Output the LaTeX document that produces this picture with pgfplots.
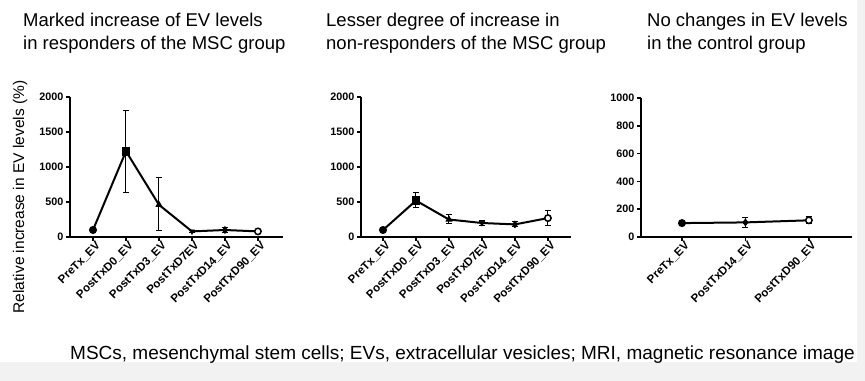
\documentclass[border=0pt]{standalone}
\usepackage{pgfplots}
\pgfplotsset{compat=1.18}
\usepackage{fontspec}
\setmainfont{Liberation Sans}
\pgfplotsset{
  panel/.style={
    scale only axis,
    axis lines=left,
    axis line style={-, line width=1.8bp, black},
    tick align=outside,
    major tick length=4bp,
    tick style={line width=1.5bp, black},
    ymin=0,
    clip=false,
    /pgf/number format/assume math mode=true,
    /pgf/number format/1000 sep={},
    yticklabel style={font=\fontsize{10.8bp}{12bp}\selectfont\bfseries, xshift=1bp},
    xticklabel style={font=\fontsize{11.5bp}{13bp}\selectfont\bfseries, rotate=45, anchor=north east, inner sep=1bp, xshift=3bp},
  },
  ebar/.style={line width=2bp, black, mark=none,
    error bars/.cd, y dir=both, y explicit,
    error bar style={line width=1bp},
    error mark options={rotate=90, mark size=3bp, line width=1bp}},
  mk/.style={only marks, black, mark size=3.5bp, mark options={line width=1bp}},
}
\begin{document}
\begin{tikzpicture}
\fill[black!5] (0bp,0bp) rectangle (865bp,381bp);
\fill[white] (0bp,19bp) rectangle (857bp,381bp);
\path[use as bounding box] (0bp,0bp) rectangle (865bp,381bp);

% titles
\begin{scope}[every node/.style={anchor=base west, inner sep=0pt, font=\fontsize{18.5bp}{22bp}\selectfont}]
\node at (23bp,354bp) {Marked increase of EV levels};
\node at (23bp,331bp) {in responders of the MSC group};
\node at (326bp,354bp) {Lesser degree of increase in};
\node at (326bp,331bp) {non-responders of the MSC group};
\node at (647bp,354bp) {No changes in EV levels};
\node at (647bp,331bp) {in the control group};
\end{scope}
\node[anchor=base west, inner sep=0pt, font=\fontsize{19bp}{22bp}\selectfont] at (70bp,22bp) {MSCs, mesenchymal stem cells; EVs, extracellular vesicles; MRI, magnetic resonance image};
\node[rotate=90, inner sep=0pt, font=\fontsize{15.5bp}{18bp}\selectfont] at (20bp,184bp) {Relative increase in EV levels (\%)};

% Panel 1
\begin{axis}[panel, at={(70bp,144bp)}, anchor=south west, width=213bp, height=140bp,
  xmin=-0.697, xmax=5.76, ymax=2000, ytick={0,500,1000,1500,2000},
  xtick={0,1,2,3,4,5},
  xticklabels={PreTx\_EV, PostTxD0\_EV, PostTxD3\_EV, PostTxD7EV, PostTxD14\_EV, PostTxD90\_EV}]
\addplot[ebar] coordinates {
  (0,100) +- (0,0)
  (1,1225) += (0,585) -= (0,590)
  (2,460) += (0,385) -= (0,370)
  (3,80) +- (0,12)
  (4,100) += (0,40) -= (0,30)
  (5,80) +- (0,10)
};
\addplot[mk, mark=*] coordinates {(0,100)};
\addplot[mk, mark=square*, mark size=3.8bp] coordinates {(1,1225)};
\addplot[mk, mark=triangle*, mark size=3.2bp] coordinates {(2,460)};
\addplot[mk, mark=triangle*, mark size=3.2bp, mark options={rotate=180}] coordinates {(3,80)};
\addplot[mk, mark=diamond*, mark size=3.2bp] coordinates {(4,100)};
\addplot[mk, mark=*, mark options={fill=white, line width=1.5bp}, mark size=3.2bp] coordinates {(5,80)};
\end{axis}

% Panel 2
\begin{axis}[panel, at={(361bp,144bp)}, anchor=south west, width=210bp, height=140bp,
  xmin=-0.667, xmax=5.7, ymax=2000, ytick={0,500,1000,1500,2000},
  xtick={0,1,2,3,4,5},
  xticklabels={PreTx\_EV, PostTxD0\_EV, PostTxD3\_EV, PostTxD7EV, PostTxD14\_EV, PostTxD90\_EV}]
\addplot[ebar] coordinates {
  (0,100) +- (0,0)
  (1,520) += (0,110) -= (0,100)
  (2,250) += (0,70) -= (0,60)
  (3,200) +- (0,40)
  (4,180) +- (0,35)
  (5,270) +- (0,105)
};
\addplot[mk, mark=*] coordinates {(0,100)};
\addplot[mk, mark=square*, mark size=3.8bp] coordinates {(1,520)};
\addplot[mk, mark=triangle*, mark size=3.2bp] coordinates {(2,250)};
\addplot[mk, mark=triangle*, mark size=3.2bp, mark options={rotate=180}] coordinates {(3,200)};
\addplot[mk, mark=diamond*, mark size=3.2bp] coordinates {(4,180)};
\addplot[mk, mark=*, mark options={fill=white, line width=1.5bp}, mark size=3.2bp] coordinates {(5,270)};
\end{axis}

% Panel 3
\begin{axis}[panel, at={(641bp,144bp)}, anchor=south west, width=211bp, height=139bp,
  xmin=-0.646, xmax=2.68, ymax=1000, ytick={0,200,400,600,800,1000},
  xtick={0,1,2},
  xticklabels={PreTx\_EV, PostTxD14\_EV, PostTxD90\_EV}]
\addplot[ebar] coordinates {
  (0,100) +- (0,0)
  (1,105) +- (0,35)
  (2,120) +- (0,25)
};
\addplot[mk, mark=*] coordinates {(0,100)};
\addplot[mk, mark=diamond*, mark size=3.2bp] coordinates {(1,105)};
\addplot[mk, mark=*, mark options={fill=white, line width=1.5bp}, mark size=3.2bp] coordinates {(2,120)};
\end{axis}
\end{tikzpicture}
\end{document}
